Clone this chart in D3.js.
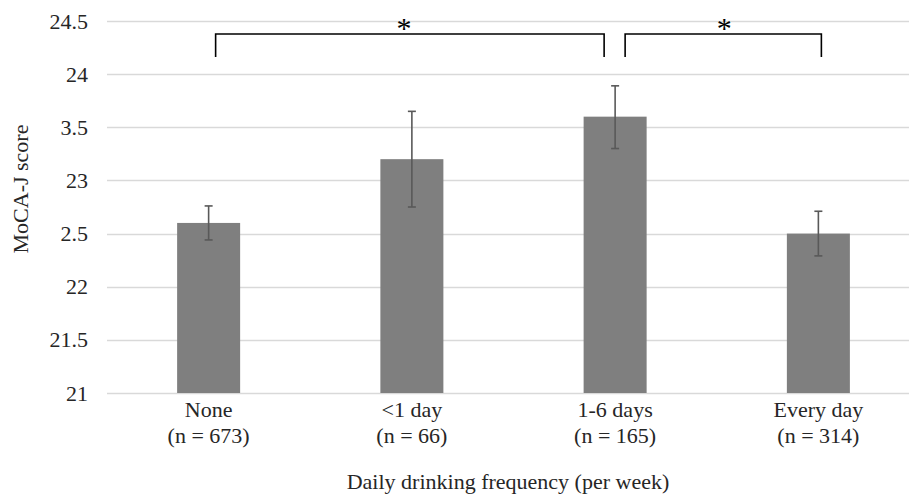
<!DOCTYPE html>
<html lang="en">
<head>
<meta charset="UTF-8">
<title>MoCA-J score by drinking frequency</title>
<script src="https://cdnjs.cloudflare.com/ajax/libs/d3/7.9.0/d3.min.js"></script>
<style>
  body { margin: 0; background: #fff; }
  svg text { font-family: "Liberation Serif", "Times New Roman", serif; fill: #262626; }
</style>
</head>
<body>
<div id="chart"></div>
<script>
// data
const categories = ['None', '<1 day', '1-6 days', 'Every day'];
const sampleSizes = ['(n = 673)', '(n = 66)', '(n = 165)', '(n = 314)'];
const means = [22.6, 23.2, 23.6, 22.5];
const errUpper = [0.16, 0.45, 0.29, 0.21];
const errLower = [0.16, 0.45, 0.30, 0.21];
const yTicks = [21, 21.5, 22, 22.5, 23, 23.5, 24, 24.5];
const yTickLabels = ['21', '21.5', '22', '2.5', '23', '3.5', '24', '24.5'];
const comparisons = [
    { from: 0, to: 2, label: '*' },
    { from: 2, to: 3, label: '*' }
];

const width = 909, height = 494;
const fontSize = '22px';
const serif = '"Liberation Serif", "Times New Roman", serif';

const svg = d3.select('#chart')
    .append('svg')
    .attr('width', width)
    .attr('height', height);

const x = d3.scaleBand()
    .domain(categories)
    .range([107, 920])
    .paddingInner(0.69)
    .paddingOuter(0.345);

const y = d3.scaleLinear()
    .domain([21, 24.5])
    .range([393, 21]);

// gridlines
svg.append('g')
    .selectAll('line')
    .data(yTicks)
    .enter().append('line')
    .attr('x1', 107)
    .attr('x2', width)
    .attr('y1', d => Math.round(y(d)) + 0.5)
    .attr('y2', d => Math.round(y(d)) + 0.5)
    .attr('stroke', '#d9d9d9')
    .attr('stroke-width', 1.3);

// y axis labels
const yAxis = svg.append('g')
    .attr('transform', 'translate(107,0)')
    .call(d3.axisLeft(y).tickValues(yTicks).tickSize(0).tickPadding(19)
        .tickFormat((d, i) => yTickLabels[i]));
yAxis.select('.domain').remove();
yAxis.attr('font-family', serif);
yAxis.selectAll('text')
    .style('font-family', serif)
    .style('font-size', fontSize)
    .attr('fill', '#262626');

// bars
svg.append('g')
    .selectAll('rect')
    .data(means)
    .enter().append('rect')
    .attr('x', (d, i) => x(categories[i]))
    .attr('y', d => y(d))
    .attr('width', x.bandwidth())
    .attr('height', d => y(21) - y(d))
    .attr('fill', '#7f7f7f');

// error bars
const err = svg.append('g')
    .attr('stroke', '#595959')
    .attr('stroke-width', 1.6);

means.forEach((m, i) => {
    const cx = x(categories[i]) + x.bandwidth() / 2;
    const top = y(m + errUpper[i]);
    const bot = y(m - errLower[i]);
    err.append('line').attr('x1', cx).attr('x2', cx).attr('y1', top).attr('y2', bot);
    err.append('line').attr('x1', cx - 4).attr('x2', cx + 4).attr('y1', top).attr('y2', top);
    err.append('line').attr('x1', cx - 4).attr('x2', cx + 4).attr('y1', bot).attr('y2', bot);
});

// x axis labels
const xLabels = svg.append('g');
categories.forEach((c, i) => {
    const cx = x(c) + x.bandwidth() / 2;
    xLabels.append('text')
        .attr('x', cx).attr('y', 417)
        .attr('text-anchor', 'middle')
        .style('font-size', fontSize)
        .text(c);
    xLabels.append('text')
        .attr('x', cx).attr('y', 443)
        .attr('text-anchor', 'middle')
        .style('font-size', fontSize)
        .text(sampleSizes[i]);
});

// axis titles
svg.append('text')
    .attr('x', 508).attr('y', 489)
    .attr('text-anchor', 'middle')
    .style('font-size', fontSize)
    .text('Daily drinking frequency (per week)');

svg.append('text')
    .attr('transform', 'translate(28,189) rotate(-90)')
    .attr('text-anchor', 'middle')
    .style('font-size', fontSize)
    .text('MoCA-J score');

// significance brackets
const bracketTop = 34, bracketBottom = 57;
const brackets = svg.append('g');
comparisons.forEach(c => {
    const x1 = x(categories[c.from]) + x.bandwidth() / 2 + (c.from === 2 ? 10 : 7);
    const x2 = x(categories[c.to]) + x.bandwidth() / 2 - (c.to === 2 ? 11 : -3);
    brackets.append('path')
        .attr('d', `M${x1},${bracketBottom}V${bracketTop}H${x2}V${bracketBottom}`)
        .attr('fill', 'none')
        .attr('stroke', '#000')
        .attr('stroke-width', 1.6);
    brackets.append('text')
        .attr('x', (x1 + x2) / 2 + (c.from === 0 ? -6 : 1)).attr('y', 38)
        .attr('text-anchor', 'middle')
        .style('font-size', '30px')
        .style('fill', '#000')
        .text(c.label);
});
</script>
</body>
</html>
